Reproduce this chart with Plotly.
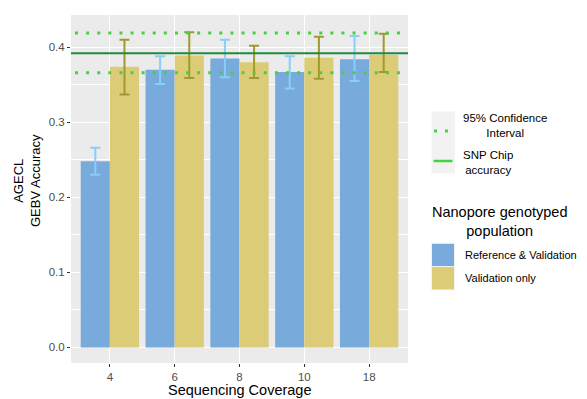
import plotly.graph_objects as go

# ---- data ----
coverage = ["4", "6", "8", "10", "18"]
series_names = ["Reference & Validation", "Validation only"]
ref_val_acc = [0.248, 0.370, 0.385, 0.367, 0.384]
ref_val_hi = [0.266, 0.388, 0.410, 0.388, 0.415]
ref_val_lo = [0.230, 0.351, 0.360, 0.345, 0.355]
val_only_acc = [0.374, 0.389, 0.380, 0.386, 0.390]
val_only_hi = [0.410, 0.420, 0.402, 0.414, 0.418]
val_only_lo = [0.337, 0.359, 0.359, 0.358, 0.367]
snp_chip_acc = 0.392
ci_bounds = [0.419, 0.366]
line_labels = ["95% Confidence<br>Interval", "SNP Chip<br>accuracy"]
legend_title = "Nanopore genotyped<br>population"

# ---- styles ----
BLUE = "#79AADC"
GOLD = "#DCCC78"
BLUE_ERR = "#87CEFA"
GOLD_ERR = "#A09A2C"
DARK_GREEN = "#1E8B3C"
BRIGHT_GREEN = "#47D047"
FONT = "Liberation Sans, Arial, sans-serif"

# page body has an 8px margin; work in reference-window pixels and shift
OFF = 8
W, H = 587 - OFF, 399 - OFF
L, R, T, B = 71, 408, 15, 363  # panel edges in reference window pixels


def px(x):
    return (x - L) / (R - L)


def py(y):
    return (B - y) / (B - T)


fig = go.Figure()

for name, vals, hi, lo, col, ecol in [
    (series_names[0], ref_val_acc, ref_val_hi, ref_val_lo, BLUE, BLUE_ERR),
    (series_names[1], val_only_acc, val_only_hi, val_only_lo, GOLD, GOLD_ERR),
]:
    fig.add_trace(go.Bar(
        x=coverage, y=vals, name=name, marker=dict(color=col, line=dict(width=0)),
        error_y=dict(type="data", symmetric=False,
                     array=[h - v for h, v in zip(hi, vals)],
                     arrayminus=[v - l for v, l in zip(vals, lo)],
                     color=ecol, thickness=2, width=5),
        showlegend=False,
    ))

shapes = []
# SNP chip line
shapes.append(dict(type="line", xref="paper", x0=0, x1=1, yref="y",
                   y0=snp_chip_acc, y1=snp_chip_acc,
                   line=dict(color=DARK_GREEN, width=2.2), layer="above"))
for cb in ci_bounds:
    shapes.append(dict(type="line", xref="paper", x0=0.012, x1=1, yref="y",
                       y0=cb, y1=cb,
                       line=dict(color=BRIGHT_GREEN, width=3, dash="3px,8.1px"),
                       layer="above"))

annotations = []
# ---- manual legend: lines ----
shapes.append(dict(type="rect", xref="paper", yref="paper",
                   x0=px(431.5), x1=px(455), y0=py(173.5), y1=py(111.5),
                   fillcolor="#F2F2F2", line=dict(width=0), layer="above"))
shapes.append(dict(type="line", xref="paper", yref="paper",
                   x0=px(434), x1=px(450), y0=py(131), y1=py(131),
                   line=dict(color=BRIGHT_GREEN, width=3, dash="3px,8px"), layer="above"))
shapes.append(dict(type="line", xref="paper", yref="paper",
                   x0=px(433.5), x1=px(452.5), y0=py(161), y1=py(161),
                   line=dict(color=BRIGHT_GREEN, width=2.5), layer="above"))
for lab, yc in zip(line_labels, [125, 162.5]):
    annotations.append(dict(text=lab, xref="paper", yref="paper", x=px(461),
                            y=py(yc), xanchor="left", yanchor="middle",
                            align="center", showarrow=False,
                            font=dict(family=FONT, size=11.5, color="black")))

# ---- manual legend: bars ----
annotations.append(dict(text=legend_title, xref="paper", yref="paper", x=px(430),
                        y=py(221.5), xanchor="left", yanchor="middle",
                        align="center", showarrow=False,
                        font=dict(family=FONT, size=14.5, color="black")))
for i, (lab, col) in enumerate(zip(series_names, [BLUE, GOLD])):
    y0 = 243.3 + i * 23.3
    shapes.append(dict(type="rect", xref="paper", yref="paper",
                       x0=px(431.5), x1=px(454.5), y0=py(y0 + 23.3), y1=py(y0),
                       fillcolor=col, line=dict(color="#F2F2F2", width=1), layer="above"))
    annotations.append(dict(text=lab, xref="paper", yref="paper", x=px(463),
                            y=py(y0 + 11.7), xanchor="left", yanchor="middle",
                            showarrow=False,
                            font=dict(family=FONT, size=11, color="black")))

# ---- axis titles ----
annotations.append(dict(text="AGECL<br>GEBV Accuracy", xref="paper", yref="paper",
                        x=px(27), y=py(180), xanchor="center", yanchor="middle",
                        textangle=-90, showarrow=False, align="center",
                        font=dict(family=FONT, size=13, color="black")))
annotations.append(dict(text="Sequencing Coverage", xref="paper", yref="paper",
                        x=0.5, y=py(390), xanchor="center", yanchor="middle",
                        showarrow=False,
                        font=dict(family=FONT, size=14.5, color="black")))

fig.update_layout(
    width=W, height=H,
    margin=dict(l=L - OFF, r=587 - R, t=T - OFF, b=399 - B, pad=0),
    paper_bgcolor="white", plot_bgcolor="#EBEBEB",
    barmode="group", bargap=0.1, bargroupgap=0,
    shapes=shapes, annotations=annotations,
    font=dict(family=FONT),
    xaxis=dict(type="category", categoryorder="array", categoryarray=coverage,
               range=[-0.6, 4.6], showgrid=True, gridcolor="white", gridwidth=1.1,
               ticks="outside", ticklen=3, tickcolor="#333333", tickwidth=1,
               tickfont=dict(family=FONT, size=11.5, color="#4D4D4D"),
               zeroline=False, showline=False, fixedrange=True),
    yaxis=dict(range=[-0.0207, 0.443], tickvals=[0.0, 0.1, 0.2, 0.3, 0.4],
               ticktext=["0.0", "0.1", "0.2", "0.3", "0.4"],
               showgrid=True, gridcolor="white", gridwidth=1.1,
               minor=dict(tickvals=[0.05, 0.15, 0.25, 0.35], showgrid=True,
                          gridcolor="white", gridwidth=0.5, ticks=""),
               ticks="outside", ticklen=3, tickcolor="#333333", tickwidth=1,
               tickfont=dict(family=FONT, size=11.5, color="#4D4D4D"),
               zeroline=False, showline=False, fixedrange=True),
)

fig.write_html("out.html")
